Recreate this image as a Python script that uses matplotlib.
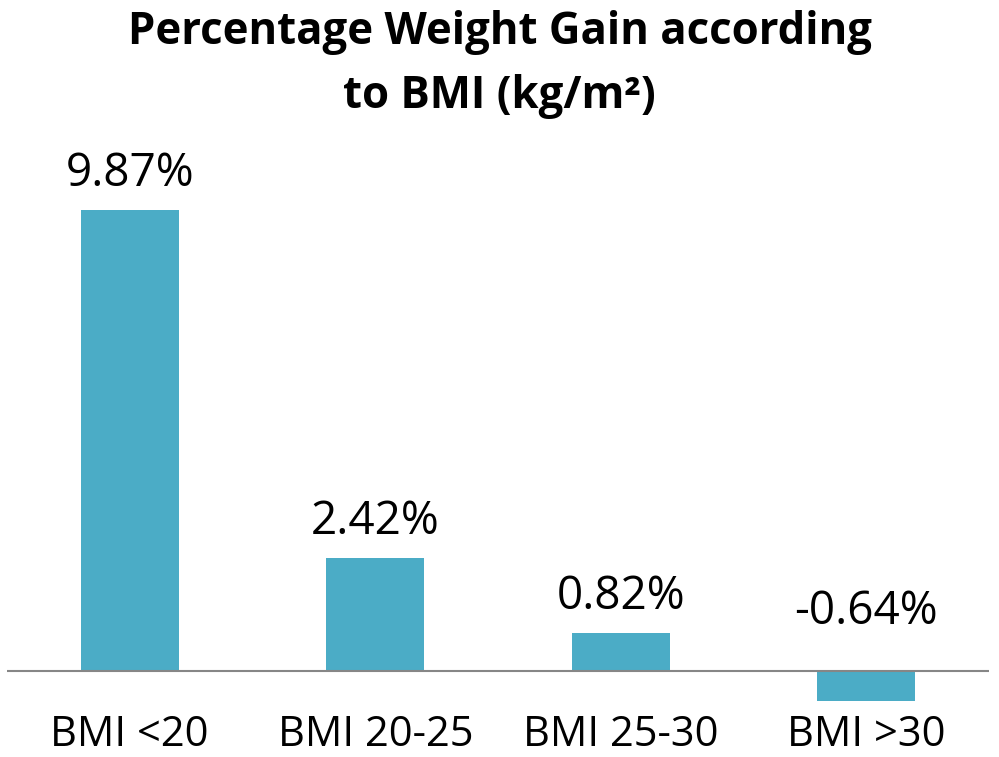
import matplotlib.pyplot as plt

categories = ['BMI <20', 'BMI 20-25', 'BMI 25-30', 'BMI >30']
gain_pct = [9.87, 2.42, 0.82, -0.64]
value_labels = ['9.87%', '2.42%', '0.82%', '-0.64%']

plt.rcParams['font.family'] = ['Open Sans', 'DejaVu Sans']

fig = plt.figure(figsize=(9.99, 7.57), dpi=100)
# axes placed so the zero line sits at ~670px and 9.87 reaches ~210px
ax = fig.add_axes([7 / 999, 1 - 706 / 757, 982 / 999, 548.7 / 757])

x = range(len(categories))
ax.bar(x, gain_pct, width=0.4, color='#4BACC6')
ax.set_xlim(-0.5, 3.5)
ax.set_ylim(-0.75, 11)

ax.axhline(0, color='#868686', lw=1.5)
for s in ax.spines.values():
    s.set_visible(False)
ax.set_yticks([])
ax.set_xticks(list(x))
ax.set_xticklabels(categories, fontsize=30, color='black')
ax.tick_params(axis='x', length=0, pad=28.5)
for lab in ax.get_xticklabels():
    lab.set_va('baseline')

for i, (v, txt) in enumerate(zip(gain_pct, value_labels)):
    off = 17 if v > 0 else 34
    ax.annotate(txt, (i, max(v, 0)), xytext=(0, off), textcoords='offset points',
                ha='center', va='baseline', fontsize=33, color='black')

fig.text(0.5, 1 - 44 / 757, 'Percentage Weight Gain according', ha='center',
         va='baseline', fontsize=31.5, fontweight='bold')
fig.text(0.5, 1 - 108 / 757, 'to BMI (kg/m²)', ha='center',
         va='baseline', fontsize=31.5, fontweight='bold')

fig.savefig('out.png', dpi=100)
